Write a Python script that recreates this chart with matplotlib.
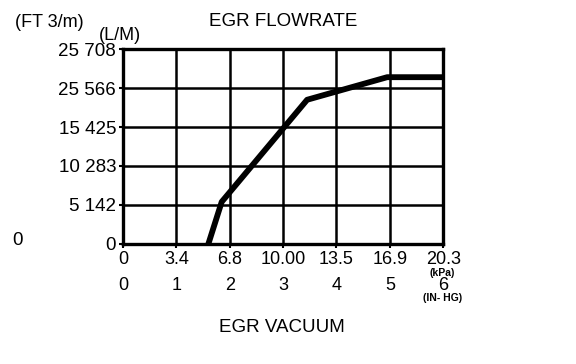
import matplotlib.pyplot as plt

plt.rcParams['font.family'] = ['Liberation Sans', 'DejaVu Sans']

# vacuum in IN-HG (x) and flow in grid steps (y)
vacuum_inhg = [1.6, 1.85, 3.45, 4.95, 6.0]
flow_steps = [0.0, 1.08, 3.7, 4.28, 4.28]

inhg_ticks = [0, 1, 2, 3, 4, 5, 6]
kpa_labels = ["0", "3.4", "6.8", "10.00", "13.5", "16.9", "20.3"]
inhg_labels = ["0", "1", "2", "3", "4", "5", "6"]
flow_ticks = [0, 1, 2, 3, 4, 5]
flow_labels = ["0", "5 142", "10 283", "15 425", "25 566", "25 708"]

fig = plt.figure(figsize=(5.76, 3.64), dpi=100)
ax = fig.add_axes([0.2135, 0.33, 0.556, 0.535])

ax.plot(vacuum_inhg, flow_steps, color='black', linewidth=4.2,
        solid_capstyle='butt', solid_joinstyle='round', zorder=3)

ax.set_xlim(0, 6)
ax.set_ylim(0, 5)
ax.set_xticks(inhg_ticks)
ax.set_xticklabels(kpa_labels, fontsize=13)
ax.set_yticks(flow_ticks)
ax.set_yticklabels(flow_labels, fontsize=13.5)
ax.tick_params(axis='x', length=3, width=1.5, color='black', pad=2)
ax.tick_params(axis='y', length=3, width=1.5, color='black', pad=2)
ax.grid(True, color='black', linewidth=1.8)
for s in ax.spines.values():
    s.set_linewidth(2.4)

sec = ax.secondary_xaxis(-0.17)
sec.set_xticks(inhg_ticks)
sec.set_xticklabels(inhg_labels, fontsize=13)
sec.spines['bottom'].set_visible(False)
sec.tick_params(length=0, pad=0)

fig.text(0.021, 0.338, "0", fontsize=13.5, va='center', ha='left')
fig.text(0.026, 0.937, "(FT 3/m)", fontsize=13, va='center', ha='left')
fig.text(0.172, 0.902, "(L/M)", fontsize=13, va='center', ha='left')
fig.text(0.492, 0.942, "EGR FLOWRATE", fontsize=13.5, va='center', ha='center')
fig.text(0.49, 0.1, "EGR VACUUM", fontsize=13.5, va='center', ha='center')
fig.text(0.768, 0.249, "(kPa)", fontsize=7.5, fontweight='bold', va='center', ha='center')
fig.text(0.768, 0.18, "(IN- HG)", fontsize=7.5, fontweight='bold', va='center', ha='center')

fig.savefig("out.png", dpi=100)
